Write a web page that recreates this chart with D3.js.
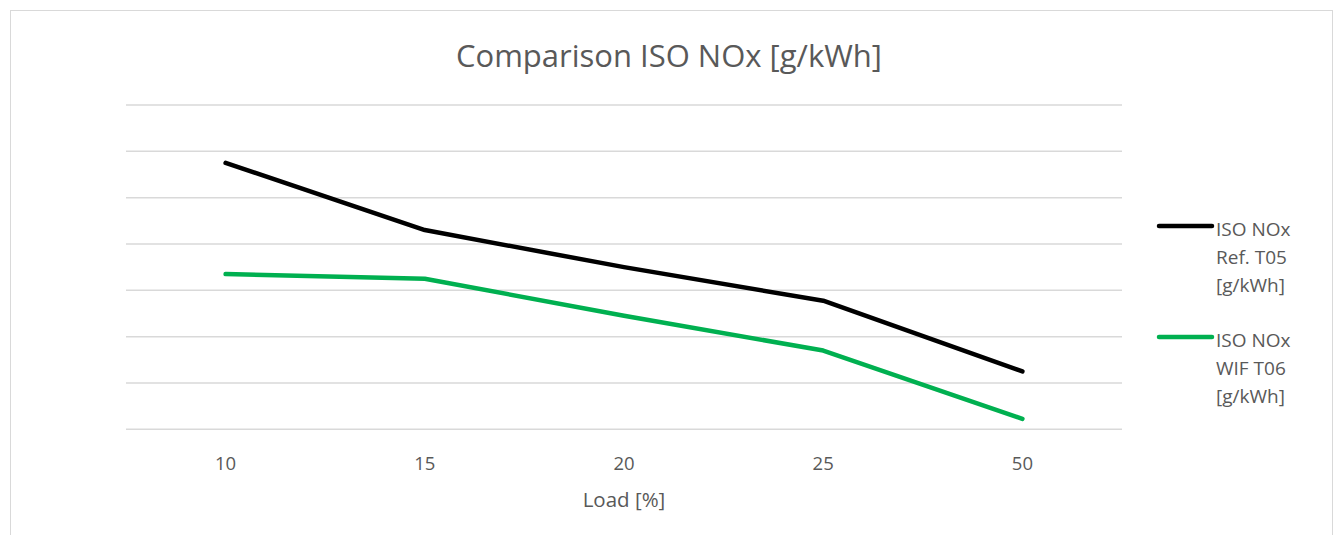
<!DOCTYPE html>
<html>
<head>
<meta charset="utf-8">
<script src="https://cdn.jsdelivr.net/npm/d3@7"></script>
<style>
  html, body { margin: 0; padding: 0; background: #fff; }
  svg { display: block; font-family: "Open Sans", "Liberation Sans", sans-serif; }
</style>
</head>
<body>
<svg id="chart" width="1338" height="535"></svg>
<script>
// Load points (categorical) and NOx values in g/kWh
const loads = ["10", "15", "20", "25", "50"];
const refT05 = [11.5, 8.6, 7.0, 5.55, 2.5];
const wifT06 = [6.7, 6.5, 4.9, 3.4, 0.45];
const yTicks = [0, 2, 4, 6, 8, 10, 12, 14];

const seriesNames = [
  ["ISO NOx", "Ref. T05", "[g/kWh]"],
  ["ISO NOx", "WIF T06", "[g/kWh]"]
];
const seriesColors = ["#000000", "#00b050"];
const seriesData = [refT05, wifT06];

const svg = d3.select("#chart");

// chart frame
svg.append("rect")
  .attr("x", 10.5).attr("y", 10.5)
  .attr("width", 1322).attr("height", 540)
  .attr("fill", "#fff").attr("stroke", "#d9d9d9").attr("stroke-width", 1);

const plot = { left: 126, right: 1122, top: 105, bottom: 429.3 };

const x = d3.scaleBand().domain(loads).range([plot.left, plot.right]).padding(0);
const y = d3.scaleLinear().domain([0, 14]).range([plot.bottom, plot.top]);

// horizontal gridlines
svg.append("g")
  .selectAll("line")
  .data(yTicks)
  .join("line")
  .attr("x1", plot.left).attr("x2", plot.right)
  .attr("y1", d => y(d)).attr("y2", d => y(d))
  .attr("stroke", "#d9d9d9").attr("stroke-width", 1.5);

// category axis labels
const xAxis = d3.axisBottom(x).tickSize(0).tickPadding(0);
const gx = svg.append("g")
  .attr("transform", `translate(0,${plot.bottom})`)
  .call(xAxis);
gx.select(".domain").remove();
gx.selectAll("text")
  .attr("y", 41)
  .attr("dy", null)
  .attr("fill", "#595959")
  .style("font-size", "18.5px")
  .style("font-family", "'Open Sans', sans-serif");

// title
svg.append("text")
  .attr("x", 669).attr("y", 67)
  .attr("text-anchor", "middle")
  .attr("fill", "#595959")
  .style("font-size", "31px")
  .text("Comparison ISO NOx [g/kWh]");

// axis title
svg.append("text")
  .attr("x", 624).attr("y", 507)
  .attr("text-anchor", "middle")
  .attr("fill", "#595959")
  .style("font-size", "20.5px")
  .text("Load [%]");

// series lines
const line = d3.line()
  .x((d, i) => x(loads[i]) + x.bandwidth() / 2)
  .y(d => y(d));

seriesData.forEach((vals, k) => {
  svg.append("path")
    .datum(vals)
    .attr("d", line)
    .attr("fill", "none")
    .attr("stroke", seriesColors[k])
    .attr("stroke-width", 4.5)
    .attr("stroke-linecap", "round")
    .attr("stroke-linejoin", "round");
});

// legend
const legendTop = [226, 337];
seriesNames.forEach((lines, k) => {
  const g = svg.append("g");
  g.append("line")
    .attr("x1", 1159).attr("x2", 1212)
    .attr("y1", legendTop[k]).attr("y2", legendTop[k])
    .attr("stroke", seriesColors[k]).attr("stroke-width", 4.5)
    .attr("stroke-linecap", "round");
  lines.forEach((t, j) => {
    g.append("text")
      .attr("x", 1216)
      .attr("y", legendTop[k] + 10 + j * 28)
      .attr("fill", "#595959")
      .style("font-size", "19px")
      .text(t);
  });
});
</script>
</body>
</html>
